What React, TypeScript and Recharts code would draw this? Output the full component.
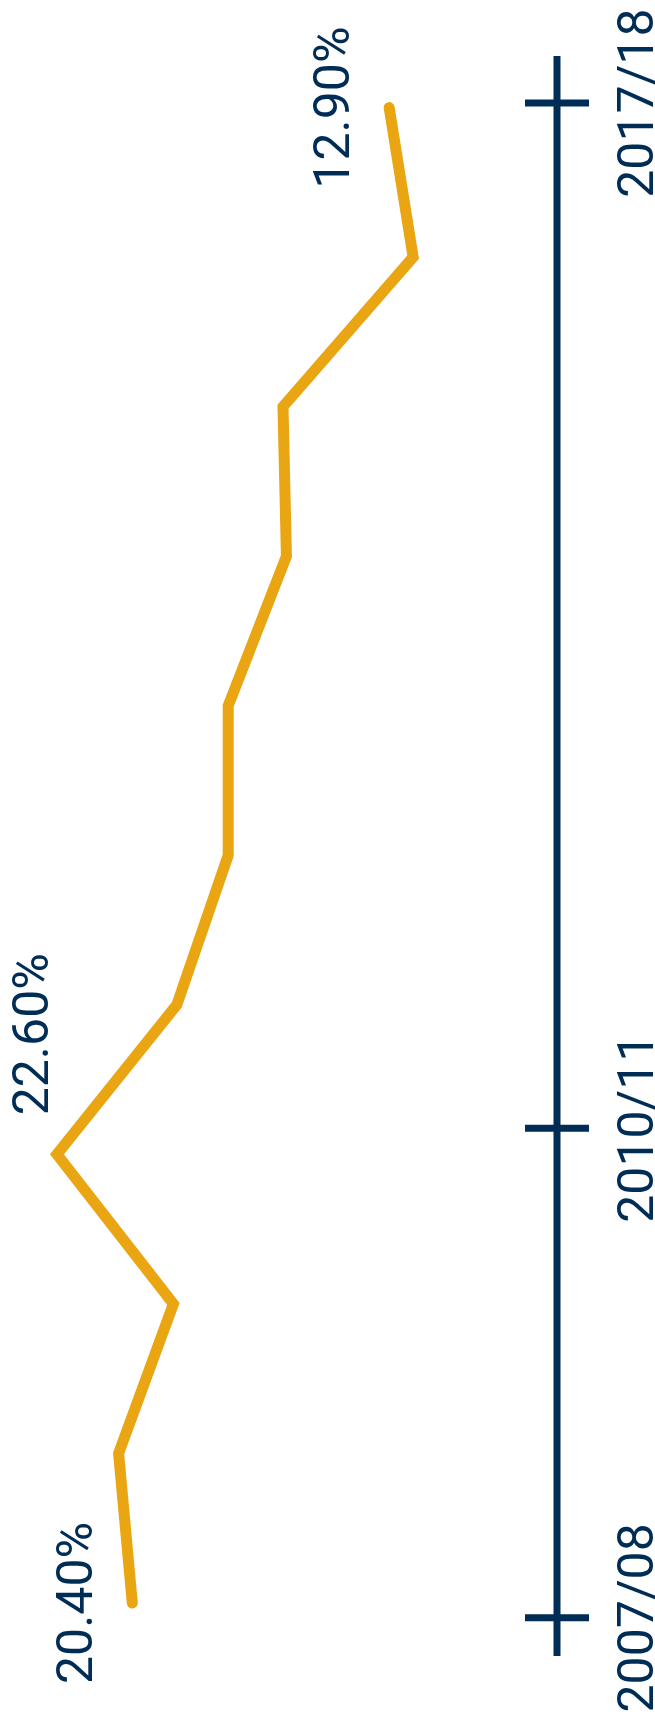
import React from 'react';
import { LineChart, Line, XAxis, YAxis, LabelList } from 'recharts';

const years = [
  '2007/08', '2008/09', '2009/10', '2010/11', '2011/12', '2012/13',
  '2013/14', '2014/15', '2015/16', '2016/17', '2017/18',
];
const shares = [20.4, 20.8, 19.2, 22.6, 19.1, 17.6, 17.6, 15.9, 16.0, 12.2, 12.9];
const pointLabels = ['20.40%', '', '', '22.60%', '', '', '', '', '', '', '12.90%'];
// labelled ticks, placed along the year index (they sit slightly off the points in the original)
const tickYears = ['2007/08', '2010/11', '2017/18'];
const tickSpots = [-0.1, 3.175, 10.03];

const NAVY = '#002d55';
const GOLD = '#e9a512';
const FONT = 'Roboto, sans-serif';

// the chart is drawn landscape and turned a quarter turn to fit the tall page
const W = 1722;
const H = 655;

const data = years.map((year, i) => ({ idx: i, year, share: shares[i], label: pointLabels[i] }));

const tickName = (v: number) => {
  const k = tickSpots.indexOf(v);
  return k >= 0 ? tickYears[k] : '';
};

const YearTick = (props: any) => {
  const { x, y, payload } = props;
  const name = tickName(payload.value);
  if (!name) return null;
  return (
    <g>
      <line x1={x} x2={x} y1={y - 32} y2={y + 32} stroke={NAVY} strokeWidth={7} />
      <text x={x} y={y + 96} textAnchor="middle" fontSize={50} fontFamily={FONT} fill={NAVY}>
        {name}
      </text>
    </g>
  );
};

const renderLabel = (props: any) => {
  const { x, y, value, index } = props;
  if (!value) return null;
  // the peak label sits beside the point, the others above it
  const beside = index === 3;
  return (
    <text
      x={beside ? x + 39 : x}
      y={beside ? y - 9 : y - 40}
      textAnchor={beside ? 'start' : 'middle'}
      fontSize={50}
      fontFamily={FONT}
      fill={NAVY}
    >
      {value}
    </text>
  );
};

export default function App() {
  return (
    <div style={{ position: 'absolute', left: 0, top: 0, width: H, height: W, overflow: 'hidden', background: '#fff' }}>
      <div
        style={{
          position: 'absolute',
          left: 0,
          top: 0,
          width: W,
          height: H,
          transformOrigin: '0 0',
          transform: `translate(0px, ${W}px) rotate(-90deg)`,
        }}
      >
        <LineChart width={W} height={H} data={data} margin={{ top: 9, right: 56, bottom: 0, left: 66 }}>
          <XAxis
            type="number"
            dataKey="idx"
            domain={[-0.355, 10.345]}
            ticks={tickSpots}
            interval={0}
            height={98}
            axisLine={{ stroke: NAVY, strokeWidth: 7 }}
            tickLine={false}
            tickSize={0}
            tickMargin={0}
            tick={<YearTick />}
          />
          <YAxis hide domain={[8, 24]} />
          <Line
            type="linear"
            dataKey="share"
            stroke={GOLD}
            strokeWidth={11}
            strokeLinecap="round"
            dot={false}
            activeDot={false}
            isAnimationActive={false}
          >
            <LabelList dataKey="label" content={renderLabel} />
          </Line>
        </LineChart>
      </div>
    </div>
  );
}
